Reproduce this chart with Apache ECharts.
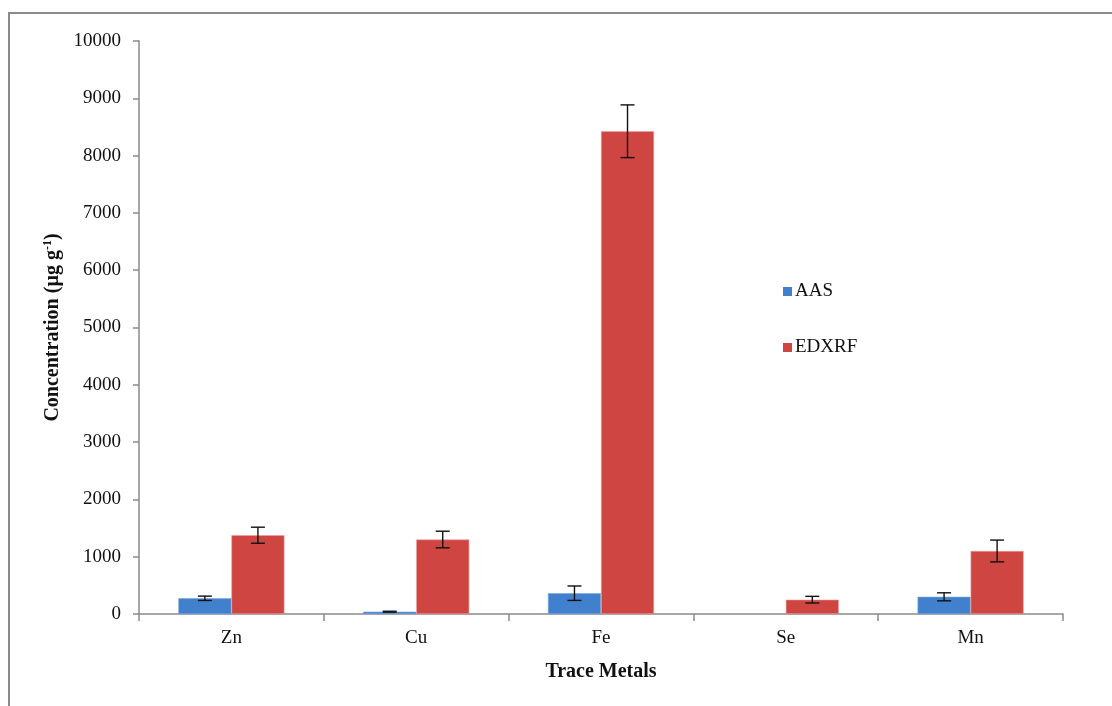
<!DOCTYPE html>
<html>
<head>
<meta charset="utf-8">
<script src="https://cdn.jsdelivr.net/npm/echarts@6/dist/echarts.min.js"></script>
<style>
  html, body { margin: 0; padding: 0; background: #fff; }
  #chart { width: 1112px; height: 706px; }
</style>
</head>
<body>
<div id="chart"></div>
<script>
// Trace metal concentrations by two analytical methods
const metals = ['Zn', 'Cu', 'Fe', 'Se', 'Mn'];
const aasValues = [274, 40, 363, 0, 300];
const aasErrors = [38, 8, 126, 0, 70];
const edxrfValues = [1375, 1300, 8425, 250, 1100];
const edxrfErrors = [140, 145, 460, 58, 190];
const yTicks = [0, 1000, 2000, 3000, 4000, 5000, 6000, 7000, 8000, 9000, 10000];

const BAR_FRAC = 0.287;
const serif = '"Liberation Serif", "DejaVu Serif", serif';

function errorBars(values, errors, side) {
  return {
    type: 'custom',
    silent: true,
    z: 10,
    data: metals.map((m, i) => [i, values[i], errors[i]]),
    renderItem: function (params, api) {
      const idx = api.value(0);
      const v = api.value(1);
      const e = api.value(2);
      if (!e) return null;
      const band = api.size([1, 0])[0];
      const dx = side * band * BAR_FRAC / 2;
      const hi = api.coord([idx, v + e]);
      const lo = api.coord([idx, v - e]);
      const x = hi[0] + dx;
      const cap = 7;
      const style = { stroke: '#111', lineWidth: 1.4 };
      return {
        type: 'group',
        children: [
          { type: 'line', shape: { x1: x, y1: hi[1], x2: x, y2: lo[1] }, style: style },
          { type: 'line', shape: { x1: x - cap, y1: hi[1], x2: x + cap, y2: hi[1] }, style: style },
          { type: 'line', shape: { x1: x - cap, y1: lo[1], x2: x + cap, y2: lo[1] }, style: style }
        ]
      };
    }
  };
}

function barItems(values, color, edge) {
  // zero-height bars get no outline
  return values.map(v => ({
    value: v,
    itemStyle: { color: color, borderColor: edge, borderWidth: v > 0 ? 0.6 : 0 }
  }));
}

const chart = echarts.init(document.getElementById('chart'));
chart.setOption({
  animation: false,
  backgroundColor: '#fff',
  textStyle: { fontFamily: serif },
  graphic: [
    { type: 'polyline', shape: { points: [[9, 706], [9, 13], [1112, 13]] },
      style: { stroke: '#8a8a8a', lineWidth: 2, fill: null } }
  ],
  grid: { left: 139, right: 49, top: 41, bottom: 92 },
  legend: {
    orient: 'vertical',
    left: 778,
    top: 277,
    itemGap: 37,
    itemWidth: 9,
    itemHeight: 9,
    icon: 'rect',
    itemStyle: { borderWidth: 0 },
    textStyle: { fontFamily: serif, fontSize: 19, color: '#111', padding: [0, 0, 0, -2] },
    data: ['AAS', 'EDXRF']
  },
  xAxis: {
    type: 'category',
    data: metals,
    name: 'Trace Metals',
    nameLocation: 'middle',
    nameGap: 48,
    nameTextStyle: { fontFamily: serif, fontSize: 20, fontWeight: 'bold', color: '#111' },
    axisLine: { lineStyle: { color: '#8a8a8a', width: 1.5 } },
    axisTick: { show: true, length: 7, lineStyle: { color: '#8a8a8a', width: 1.5 } },
    axisLabel: { fontFamily: serif, fontSize: 19, color: '#111', margin: 15 }
  },
  yAxis: {
    type: 'value',
    min: yTicks[0],
    max: yTicks[yTicks.length - 1],
    interval: yTicks[1] - yTicks[0],
    name: '{t|Concentration (µg g}{s|-1}{t|)}',
    nameLocation: 'middle',
    nameGap: 74,
    nameRotate: 90,
    nameTextStyle: {
      rich: {
        t: { fontFamily: serif, fontSize: 20, fontWeight: 'bold', color: '#111' },
        s: { fontFamily: serif, fontSize: 12, fontWeight: 'bold', color: '#111', verticalAlign: 'top', padding: [0, 0, 9, 0] }
      }
    },
    splitLine: { show: false },
    axisLine: { show: true, lineStyle: { color: '#8a8a8a', width: 1.5 } },
    axisTick: { show: true, length: 6, lineStyle: { color: '#8a8a8a', width: 1.5 } },
    axisLabel: { fontFamily: serif, fontSize: 19, color: '#111', margin: 18, formatter: v => String(v) }
  },
  series: [
    {
      name: 'AAS', type: 'bar', data: barItems(aasValues, '#4180cc', '#7aa5dc'),
      barWidth: (BAR_FRAC * 100) + '%', barGap: '0%',
      itemStyle: { color: '#4180cc' }
    },
    {
      name: 'EDXRF', type: 'bar', data: barItems(edxrfValues, '#cf4541', '#eaa09e'),
      barWidth: (BAR_FRAC * 100) + '%', barGap: '0%',
      itemStyle: { color: '#cf4541' }
    },
    errorBars(aasValues, aasErrors, -1),
    errorBars(edxrfValues, edxrfErrors, 1)
  ]
});
</script>
</body>
</html>
